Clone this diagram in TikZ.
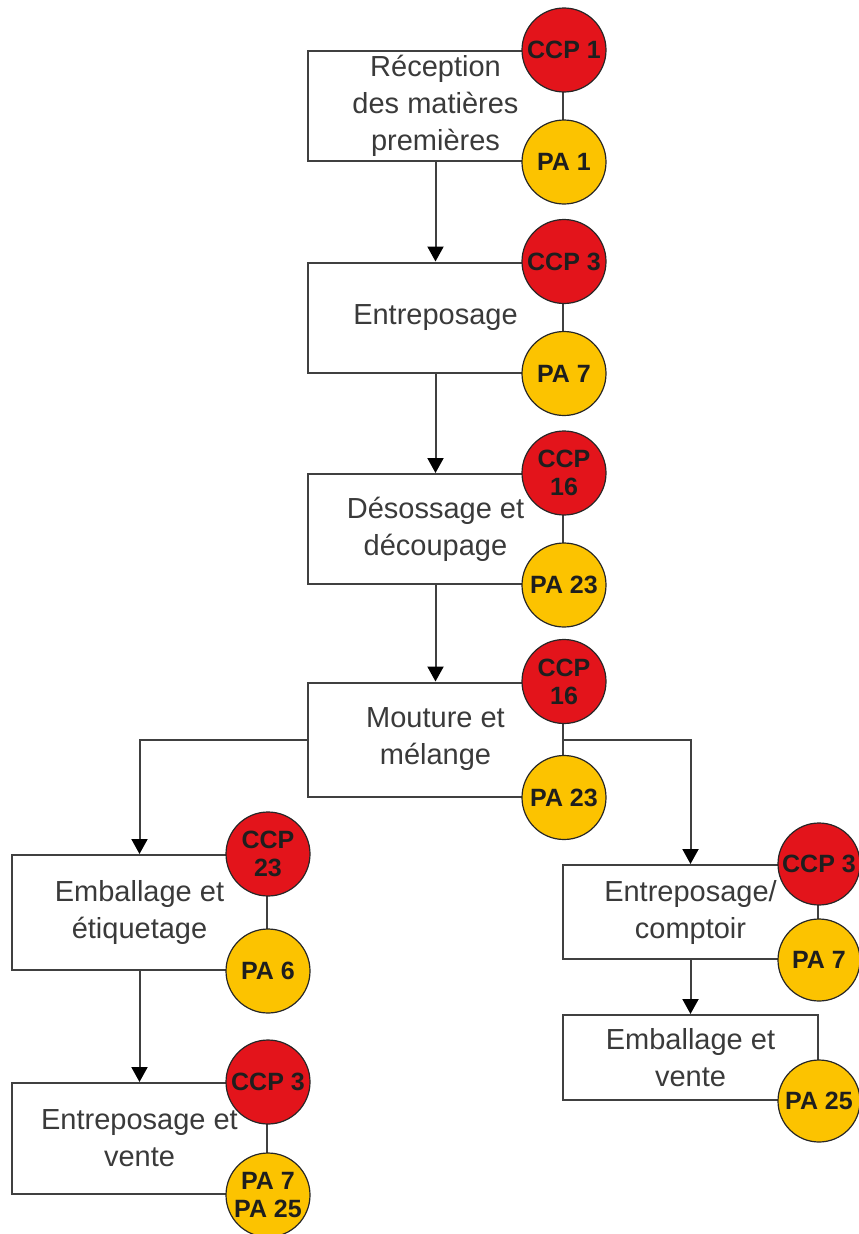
\documentclass[tikz,border=0pt]{standalone}
\usepackage{fontspec}
\setmainfont{Liberation Sans}
\usetikzlibrary{arrows.meta}
\definecolor{ccpred}{HTML}{E3141B}
\definecolor{payellow}{HTML}{FCC300}
\definecolor{linegray}{HTML}{404040}
\definecolor{textgray}{HTML}{3A3A3A}
\definecolor{marktext}{HTML}{1E1E1E}

\begin{document}
\begin{tikzpicture}[x=1pt,y=-1pt,
  stepbox/.style={draw=linegray, line width=2pt, fill=none, inner sep=0pt,
    minimum width=255pt},
  steptext/.style={font=\fontsize{29}{37}\selectfont, text=textgray, align=center, inner sep=0pt},
  hazard/.style={circle, draw=black!85, line width=1.2pt, inner sep=0pt,
    minimum size=84pt, align=center, text=marktext,
    font=\bfseries\fontsize{25}{28}\selectfont},
  ccp/.style={hazard, fill=ccpred},
  pa/.style={hazard, fill=payellow},
  smallmark/.style={minimum size=82pt},
  flow/.style={draw=linegray, line width=2pt,
    -{Triangle[width=16pt,length=15pt,color=black]}}
]
\useasboundingbox (0,0) rectangle (859,1234);

% process steps (outlines only, labels set afterwards)
\node[stepbox, minimum height=110pt] (b1) at (435.5,106) {};
\node[stepbox, minimum height=110pt] (b2) at (435.5,317.5) {};
\node[stepbox, minimum height=110pt] (b3) at (435.5,529) {};
\node[stepbox, minimum height=114pt] (b4) at (435.5,739.5) {};
\node[stepbox, minimum height=115pt] (b5) at (139.5,912.5) {};
\node[stepbox, minimum height=111pt] (b6) at (139.5,1138.5) {};
\node[stepbox, minimum height=94pt] (b7) at (690.5,912) {};
\node[stepbox, minimum height=85pt] (b8) at (690.5,1057.5) {};

% flow between steps
\draw[flow] (b1.south) -- (b2.north);
\draw[flow] (b2.south) -- (b3.north);
\draw[flow] (b3.south) -- (b4.north);
\draw[flow] (b4.west) -| (b5.north);
\draw[flow] (b4.east) -| (b7.north);
\draw[flow] (b5.south) -- (b6.north);
\draw[flow] (b7.south) -- (b8.north);

% critical control points and prerequisite programmes
\node[ccp] (c1) at (b1.north east) {CCP 1};
\node[pa]  (p1) at (b1.south east) {PA 1};
\node[ccp] (c2) at (b2.north east) {CCP 3};
\node[pa]  (p2) at (b2.south east) {PA 7};
\node[ccp] (c3) at (b3.north east) {CCP\\16};
\node[pa]  (p3) at (b3.south east) {PA 23};
\node[ccp] (c4) at (b4.north east) {CCP\\16};
\node[pa]  (p4) at (b4.south east) {PA 23};
\node[ccp] (c5) at (b5.north east) {CCP\\23};
\node[pa]  (p5) at (b5.south east) {PA 6};
\node[ccp] (c6) at (b6.north east) {CCP 3};
\node[pa]  (p6) at (b6.south east) {PA 7\\PA 25};
\node[ccp, smallmark] (c7) at (b7.north east) {CCP 3};
\node[pa, smallmark]  (p7) at (b7.south east) {PA 7};
\node[pa, smallmark]  (p8) at (b8.south east) {PA 25};

% step labels
\node[steptext] (t1) at (b1.center) {Réception\\des matières\\premières};
\node[steptext] (t2) at (b2.center) {Entreposage};
\node[steptext] (t3) at (b3.center) {Désossage et\\découpage};
\node[steptext] (t4) at (b4.center) {Mouture et\\mélange};
\node[steptext] (t5) at (b5.center) {Emballage et\\étiquetage};
\node[steptext] (t6) at (b6.center) {Entreposage et\\vente};
\node[steptext] (t7) at (b7.center) {Entreposage/\\comptoir};
\node[steptext] (t8) at (b8.center) {Emballage et\\vente};
\end{tikzpicture}
\end{document}
